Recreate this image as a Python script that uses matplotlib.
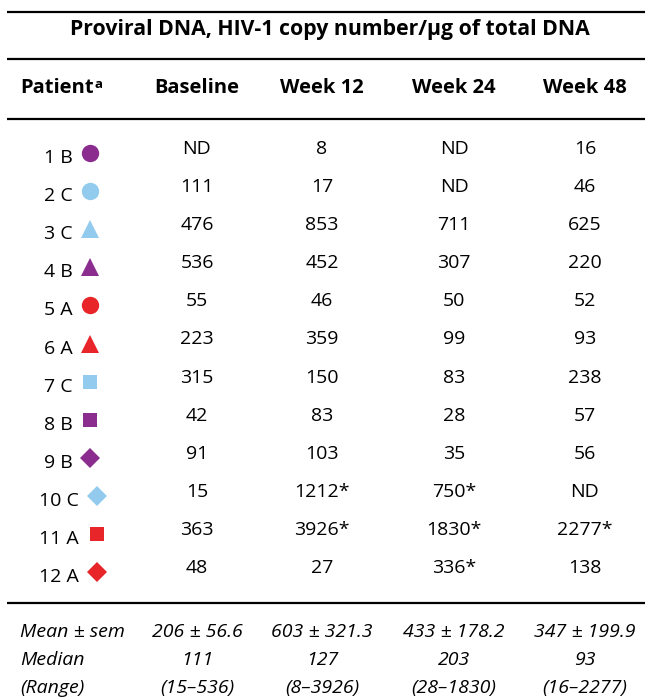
import matplotlib
matplotlib.use("Agg")
import matplotlib.pyplot as plt

# ---------------- data ----------------
title = "Proviral DNA, HIV-1 copy number/\u03bcg of total DNA"
col_headers = ["Baseline", "Week 12", "Week 24", "Week 48"]
patients = ["1 B", "2 C", "3 C", "4 B", "5 A", "6 A", "7 C", "8 B", "9 B", "10 C", "11 A", "12 A"]
groups = ["B", "C", "C", "B", "A", "A", "C", "B", "B", "C", "A", "A"]
shapes = ["o", "o", "^", "^", "o", "^", "s", "s", "D", "D", "s", "D"]
baseline = ["ND", "111", "476", "536", "55", "223", "315", "42", "91", "15", "363", "48"]
week12 = ["8", "17", "853", "452", "46", "359", "150", "83", "103", "1212*", "3926*", "27"]
week24 = ["ND", "ND", "711", "307", "50", "99", "83", "28", "35", "750*", "1830*", "336*"]
week48 = ["16", "46", "625", "220", "52", "93", "238", "57", "56", "ND", "2277*", "138"]
summary_labels = ["Mean \u00b1 sem", "Median", "(Range)"]
summary_baseline = ["206 \u00b1 56.6", "111", "(15\u2013536)"]
summary_week12 = ["603 \u00b1 321.3", "127", "(8\u20133926)"]
summary_week24 = ["433 \u00b1 178.2", "203", "(28\u20131830)"]
summary_week48 = ["347 \u00b1 199.9", "93", "(16\u20132277)"]

group_colors = {"A": "#E8262A", "B": "#8B2D8E", "C": "#92CBEE"}

# ---------------- layout ----------------
plt.rcParams['font.family'] = ['Open Sans', 'DejaVu Sans']
W, H = 645, 700
fig = plt.figure(figsize=(W / 100, H / 100), dpi=100)
ax = fig.add_axes([0, 0, 1, 1])
ax.set_xlim(0, W)
ax.set_ylim(H, 0)
ax.axis("off")

col_x = [197, 322, 454, 585]
row_y0, row_dy = 149, 38.1
fs = 14
hfs = 14.5

# rules
for y in [12, 59, 119, 603]:
    ax.plot([7, W], [y, y], color="black", lw=1.6, solid_capstyle="butt")

ax.text(330, 30, title, ha="center", va="center", fontsize=15.3, fontweight="bold")

# header
t = ax.text(20, 88, "Patient", ha="left", va="center", fontsize=hfs, fontweight="bold")
fig.canvas.draw()
bb = t.get_window_extent()
x_end = bb.x1
ax.text(x_end + 1, 84, "a", ha="left", va="center", fontsize=9.5, fontweight="bold")
for cx, h in zip(col_x, col_headers):
    ax.text(cx, 88, h, ha="center", va="center", fontsize=hfs, fontweight="bold")

# rows
columns = [baseline, week12, week24, week48]
for i, (p, g, s) in enumerate(zip(patients, groups, shapes)):
    y = row_y0 + row_dy * i
    two_digit = len(p.split()[0]) > 1
    lab_x = 79 if two_digit else 73
    mk_x = 97 if two_digit else 90
    ax.text(lab_x, y + 9, p, ha="right", va="center", fontsize=fs)
    ms = {"o": 12.5, "^": 13, "s": 9.5, "D": 10}[s]
    ax.plot([mk_x], [y + 4], marker=s, markersize=ms, color=group_colors[g],
            markeredgewidth=0, linestyle="none")
    for cx, col in zip(col_x, columns):
        ax.text(cx, y, col[i], ha="center", va="center", fontsize=fs)

# summary
sum_cols = [summary_baseline, summary_week12, summary_week24, summary_week48]
for j, lab in enumerate(summary_labels):
    y = 632 + 28 * j
    ax.text(20, y, lab, ha="left", va="center", fontsize=fs, style="italic")
    for cx, col in zip(col_x, sum_cols):
        ax.text(cx, y, col[j], ha="center", va="center", fontsize=fs, style="italic")

fig.savefig("out.png", dpi=100)
